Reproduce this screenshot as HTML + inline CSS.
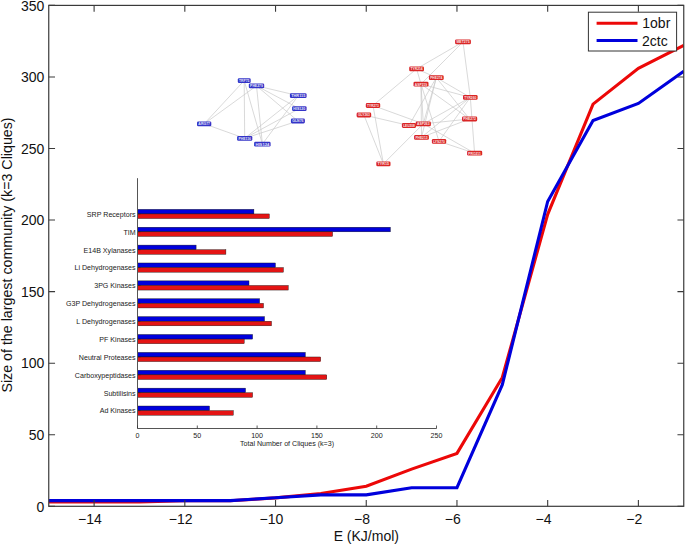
<!DOCTYPE html><html><head><meta charset="utf-8"><style>html,body{margin:0;padding:0;background:#fff;width:685px;height:544px;overflow:hidden}svg{display:block}text{font-family:"Liberation Sans",sans-serif}</style></head><body>
<svg width="685" height="544" viewBox="0 0 685 544">
<rect width="685" height="544" fill="#fff"/>
<defs><clipPath id="c"><rect x="48.75" y="5.4" width="635.0" height="500.90000000000003"/></clipPath></defs>
<line x1="244.2" y1="80.6" x2="204.2" y2="123.8" stroke="#c8c8c8" stroke-width="0.7"/><line x1="256.5" y1="85.8" x2="204.2" y2="123.8" stroke="#c8c8c8" stroke-width="0.7"/><line x1="204.2" y1="123.8" x2="244.7" y2="138.3" stroke="#c8c8c8" stroke-width="0.7"/><line x1="244.2" y1="80.6" x2="244.7" y2="138.3" stroke="#c8c8c8" stroke-width="0.7"/><line x1="244.2" y1="80.6" x2="262.4" y2="144.1" stroke="#c8c8c8" stroke-width="0.7"/><line x1="256.5" y1="85.8" x2="262.4" y2="144.1" stroke="#c8c8c8" stroke-width="0.7"/><line x1="256.5" y1="85.8" x2="298.3" y2="95.7" stroke="#c8c8c8" stroke-width="0.7"/><line x1="256.5" y1="85.8" x2="299.3" y2="108.6" stroke="#c8c8c8" stroke-width="0.7"/><line x1="256.5" y1="85.8" x2="297.9" y2="121.0" stroke="#c8c8c8" stroke-width="0.7"/><line x1="244.7" y1="138.3" x2="298.3" y2="95.7" stroke="#c8c8c8" stroke-width="0.7"/><line x1="244.7" y1="138.3" x2="299.3" y2="108.6" stroke="#c8c8c8" stroke-width="0.7"/><line x1="244.7" y1="138.3" x2="297.9" y2="121.0" stroke="#c8c8c8" stroke-width="0.7"/><line x1="262.4" y1="144.1" x2="298.3" y2="95.7" stroke="#c8c8c8" stroke-width="0.7"/><rect x="237.8" y="78.2" width="12.9" height="4.8" rx="1.3" fill="#3434c8"/><text x="244.2" y="82.0" font-size="3.9" font-weight="bold" fill="#fff" fill-opacity="0.9" text-anchor="middle" textLength="10.3" lengthAdjust="spacingAndGlyphs">TRP75</text><rect x="248.8" y="83.4" width="15.4" height="4.8" rx="1.3" fill="#3434c8"/><text x="256.5" y="87.2" font-size="3.9" font-weight="bold" fill="#fff" fill-opacity="0.9" text-anchor="middle" textLength="12.8" lengthAdjust="spacingAndGlyphs">PHE279</text><rect x="289.9" y="93.3" width="16.7" height="4.8" rx="1.3" fill="#3434c8"/><text x="298.3" y="97.1" font-size="3.9" font-weight="bold" fill="#fff" fill-opacity="0.9" text-anchor="middle" textLength="14.1" lengthAdjust="spacingAndGlyphs">THR115</text><rect x="292.1" y="106.2" width="14.5" height="4.8" rx="1.3" fill="#3434c8"/><text x="299.3" y="110.0" font-size="3.9" font-weight="bold" fill="#fff" fill-opacity="0.9" text-anchor="middle" textLength="11.9" lengthAdjust="spacingAndGlyphs">HIS120</text><rect x="290.9" y="118.6" width="14.0" height="4.8" rx="1.3" fill="#3434c8"/><text x="297.9" y="122.4" font-size="3.9" font-weight="bold" fill="#fff" fill-opacity="0.9" text-anchor="middle" textLength="11.4" lengthAdjust="spacingAndGlyphs">GLN76</text><rect x="197.0" y="121.4" width="14.3" height="4.8" rx="1.3" fill="#3434c8"/><text x="204.2" y="125.2" font-size="3.9" font-weight="bold" fill="#fff" fill-opacity="0.9" text-anchor="middle" textLength="11.7" lengthAdjust="spacingAndGlyphs">ARG77</text><rect x="237.1" y="135.9" width="15.2" height="4.8" rx="1.3" fill="#3434c8"/><text x="244.7" y="139.7" font-size="3.9" font-weight="bold" fill="#fff" fill-opacity="0.9" text-anchor="middle" textLength="12.6" lengthAdjust="spacingAndGlyphs">PHE116</text><rect x="254.1" y="141.7" width="16.5" height="4.8" rx="1.3" fill="#3434c8"/><text x="262.4" y="145.5" font-size="3.9" font-weight="bold" fill="#fff" fill-opacity="0.9" text-anchor="middle" textLength="13.9" lengthAdjust="spacingAndGlyphs">HIS124</text>
<line x1="463.0" y1="41.9" x2="416.6" y2="68.8" stroke="#c8c8c8" stroke-width="0.7"/><line x1="463.0" y1="41.9" x2="470.3" y2="97.4" stroke="#c8c8c8" stroke-width="0.7"/><line x1="463.0" y1="41.9" x2="421.0" y2="84.1" stroke="#c8c8c8" stroke-width="0.7"/><line x1="416.6" y1="68.8" x2="373.0" y2="105.5" stroke="#c8c8c8" stroke-width="0.7"/><line x1="416.6" y1="68.8" x2="421.0" y2="84.1" stroke="#c8c8c8" stroke-width="0.7"/><line x1="416.6" y1="68.8" x2="436.3" y2="77.6" stroke="#c8c8c8" stroke-width="0.7"/><line x1="436.3" y1="77.6" x2="470.3" y2="97.4" stroke="#c8c8c8" stroke-width="0.7"/><line x1="436.3" y1="77.6" x2="469.6" y2="119.0" stroke="#c8c8c8" stroke-width="0.7"/><line x1="436.3" y1="77.6" x2="423.3" y2="123.8" stroke="#c8c8c8" stroke-width="0.7"/><line x1="436.3" y1="77.6" x2="409.0" y2="125.5" stroke="#c8c8c8" stroke-width="0.7"/><line x1="436.3" y1="77.6" x2="421.5" y2="137.3" stroke="#c8c8c8" stroke-width="0.7"/><line x1="421.0" y1="84.1" x2="470.3" y2="97.4" stroke="#c8c8c8" stroke-width="0.7"/><line x1="421.0" y1="84.1" x2="423.3" y2="123.8" stroke="#c8c8c8" stroke-width="0.7"/><line x1="421.0" y1="84.1" x2="421.5" y2="137.3" stroke="#c8c8c8" stroke-width="0.7"/><line x1="421.0" y1="84.1" x2="439.0" y2="141.3" stroke="#c8c8c8" stroke-width="0.7"/><line x1="421.0" y1="84.1" x2="469.6" y2="119.0" stroke="#c8c8c8" stroke-width="0.7"/><line x1="470.3" y1="97.4" x2="474.6" y2="153.2" stroke="#c8c8c8" stroke-width="0.7"/><line x1="470.3" y1="97.4" x2="423.3" y2="123.8" stroke="#c8c8c8" stroke-width="0.7"/><line x1="470.3" y1="97.4" x2="439.0" y2="141.3" stroke="#c8c8c8" stroke-width="0.7"/><line x1="470.3" y1="97.4" x2="421.5" y2="137.3" stroke="#c8c8c8" stroke-width="0.7"/><line x1="373.0" y1="105.5" x2="383.4" y2="163.8" stroke="#c8c8c8" stroke-width="0.7"/><line x1="373.0" y1="105.5" x2="423.3" y2="123.8" stroke="#c8c8c8" stroke-width="0.7"/><line x1="363.9" y1="115.0" x2="383.4" y2="163.8" stroke="#c8c8c8" stroke-width="0.7"/><line x1="363.9" y1="115.0" x2="409.0" y2="125.5" stroke="#c8c8c8" stroke-width="0.7"/><line x1="383.4" y1="163.8" x2="423.3" y2="123.8" stroke="#c8c8c8" stroke-width="0.7"/><line x1="469.6" y1="119.0" x2="421.5" y2="137.3" stroke="#c8c8c8" stroke-width="0.7"/><line x1="469.6" y1="119.0" x2="423.3" y2="123.8" stroke="#c8c8c8" stroke-width="0.7"/><line x1="439.0" y1="141.3" x2="474.6" y2="153.2" stroke="#c8c8c8" stroke-width="0.7"/><line x1="423.3" y1="123.8" x2="474.6" y2="153.2" stroke="#c8c8c8" stroke-width="0.7"/><rect x="455.1" y="39.5" width="15.8" height="4.8" rx="1.3" fill="#da2626"/><text x="463.0" y="43.3" font-size="3.9" font-weight="bold" fill="#fff" fill-opacity="0.9" text-anchor="middle" textLength="13.2" lengthAdjust="spacingAndGlyphs">MET275</text><rect x="409.2" y="66.4" width="14.8" height="4.8" rx="1.3" fill="#da2626"/><text x="416.6" y="70.2" font-size="3.9" font-weight="bold" fill="#fff" fill-opacity="0.9" text-anchor="middle" textLength="12.2" lengthAdjust="spacingAndGlyphs">TYR214</text><rect x="428.9" y="75.2" width="14.8" height="4.8" rx="1.3" fill="#da2626"/><text x="436.3" y="79.0" font-size="3.9" font-weight="bold" fill="#fff" fill-opacity="0.9" text-anchor="middle" textLength="12.2" lengthAdjust="spacingAndGlyphs">PHE274</text><rect x="413.5" y="81.7" width="15.0" height="4.8" rx="1.3" fill="#da2626"/><text x="421.0" y="85.5" font-size="3.9" font-weight="bold" fill="#fff" fill-opacity="0.9" text-anchor="middle" textLength="12.4" lengthAdjust="spacingAndGlyphs">ASP219</text><rect x="463.0" y="95.0" width="14.6" height="4.8" rx="1.3" fill="#da2626"/><text x="470.3" y="98.8" font-size="3.9" font-weight="bold" fill="#fff" fill-opacity="0.9" text-anchor="middle" textLength="12.0" lengthAdjust="spacingAndGlyphs">TYR260</text><rect x="365.8" y="103.1" width="14.4" height="4.8" rx="1.3" fill="#da2626"/><text x="373.0" y="106.9" font-size="3.9" font-weight="bold" fill="#fff" fill-opacity="0.9" text-anchor="middle" textLength="11.8" lengthAdjust="spacingAndGlyphs">TYR273</text><rect x="356.6" y="112.6" width="14.6" height="4.8" rx="1.3" fill="#da2626"/><text x="363.9" y="116.4" font-size="3.9" font-weight="bold" fill="#fff" fill-opacity="0.9" text-anchor="middle" textLength="12.0" lengthAdjust="spacingAndGlyphs">GLY263</text><rect x="462.0" y="116.6" width="15.2" height="4.8" rx="1.3" fill="#da2626"/><text x="469.6" y="120.4" font-size="3.9" font-weight="bold" fill="#fff" fill-opacity="0.9" text-anchor="middle" textLength="12.6" lengthAdjust="spacingAndGlyphs">PHE272</text><rect x="415.7" y="121.4" width="15.2" height="4.8" rx="1.3" fill="#da2626"/><text x="423.3" y="125.2" font-size="3.9" font-weight="bold" fill="#fff" fill-opacity="0.9" text-anchor="middle" textLength="12.6" lengthAdjust="spacingAndGlyphs">ASP263</text><rect x="401.9" y="123.1" width="14.2" height="4.8" rx="1.3" fill="#da2626"/><text x="409.0" y="126.9" font-size="3.9" font-weight="bold" fill="#fff" fill-opacity="0.9" text-anchor="middle" textLength="11.6" lengthAdjust="spacingAndGlyphs">LEU208</text><rect x="414.1" y="134.9" width="14.8" height="4.8" rx="1.3" fill="#da2626"/><text x="421.5" y="138.7" font-size="3.9" font-weight="bold" fill="#fff" fill-opacity="0.9" text-anchor="middle" textLength="12.2" lengthAdjust="spacingAndGlyphs">PHE213</text><rect x="431.9" y="138.9" width="14.3" height="4.8" rx="1.3" fill="#da2626"/><text x="439.0" y="142.7" font-size="3.9" font-weight="bold" fill="#fff" fill-opacity="0.9" text-anchor="middle" textLength="11.7" lengthAdjust="spacingAndGlyphs">LYS270</text><rect x="467.1" y="150.8" width="15.1" height="4.8" rx="1.3" fill="#da2626"/><text x="474.6" y="154.6" font-size="3.9" font-weight="bold" fill="#fff" fill-opacity="0.9" text-anchor="middle" textLength="12.5" lengthAdjust="spacingAndGlyphs">PRO211</text><rect x="376.3" y="161.4" width="14.2" height="4.8" rx="1.3" fill="#da2626"/><text x="383.4" y="165.2" font-size="3.9" font-weight="bold" fill="#fff" fill-opacity="0.9" text-anchor="middle" textLength="11.6" lengthAdjust="spacingAndGlyphs">TYR15</text>
<rect x="137.5" y="406.02" width="72.0" height="4.6" fill="#0000dc" stroke="#111" stroke-width="0.4"/>
<rect x="137.5" y="410.62" width="95.8" height="4.6" fill="#e41414" stroke="#111" stroke-width="0.4"/>
<text x="135.6" y="413.42" font-size="7.1" fill="#222" text-anchor="end">Ad Kinases</text>
<line x1="137.5" y1="410.62" x2="140.5" y2="410.62" stroke="#222" stroke-width="0.6"/>
<rect x="137.5" y="388.14" width="108.0" height="4.6" fill="#0000dc" stroke="#111" stroke-width="0.4"/>
<rect x="137.5" y="392.74" width="115.1" height="4.6" fill="#e41414" stroke="#111" stroke-width="0.4"/>
<text x="135.6" y="395.54" font-size="7.1" fill="#222" text-anchor="end">Subtilisins</text>
<line x1="137.5" y1="392.74" x2="140.5" y2="392.74" stroke="#222" stroke-width="0.6"/>
<rect x="137.5" y="370.26" width="167.8" height="4.6" fill="#0000dc" stroke="#111" stroke-width="0.4"/>
<rect x="137.5" y="374.86" width="189.3" height="4.6" fill="#e41414" stroke="#111" stroke-width="0.4"/>
<text x="135.6" y="377.66" font-size="7.1" fill="#222" text-anchor="end">Carboxypeptidases</text>
<line x1="137.5" y1="374.86" x2="140.5" y2="374.86" stroke="#222" stroke-width="0.6"/>
<rect x="137.5" y="352.38" width="167.8" height="4.6" fill="#0000dc" stroke="#111" stroke-width="0.4"/>
<rect x="137.5" y="356.98" width="183.2" height="4.6" fill="#e41414" stroke="#111" stroke-width="0.4"/>
<text x="135.6" y="359.78" font-size="7.1" fill="#222" text-anchor="end">Neutral Proteases</text>
<line x1="137.5" y1="356.98" x2="140.5" y2="356.98" stroke="#222" stroke-width="0.6"/>
<rect x="137.5" y="334.50" width="115.1" height="4.6" fill="#0000dc" stroke="#111" stroke-width="0.4"/>
<rect x="137.5" y="339.10" width="106.7" height="4.6" fill="#e41414" stroke="#111" stroke-width="0.4"/>
<text x="135.6" y="341.90" font-size="7.1" fill="#222" text-anchor="end">PF Kinases</text>
<line x1="137.5" y1="339.10" x2="140.5" y2="339.10" stroke="#222" stroke-width="0.6"/>
<rect x="137.5" y="316.62" width="127.0" height="4.6" fill="#0000dc" stroke="#111" stroke-width="0.4"/>
<rect x="137.5" y="321.22" width="134.0" height="4.6" fill="#e41414" stroke="#111" stroke-width="0.4"/>
<text x="135.6" y="324.02" font-size="7.1" fill="#222" text-anchor="end">L Dehydrogenases</text>
<line x1="137.5" y1="321.22" x2="140.5" y2="321.22" stroke="#222" stroke-width="0.6"/>
<rect x="137.5" y="298.74" width="122.1" height="4.6" fill="#0000dc" stroke="#111" stroke-width="0.4"/>
<rect x="137.5" y="303.34" width="126.0" height="4.6" fill="#e41414" stroke="#111" stroke-width="0.4"/>
<text x="135.6" y="306.14" font-size="7.1" fill="#222" text-anchor="end">G3P Dehydrogenases</text>
<line x1="137.5" y1="303.34" x2="140.5" y2="303.34" stroke="#222" stroke-width="0.6"/>
<rect x="137.5" y="280.86" width="111.5" height="4.6" fill="#0000dc" stroke="#111" stroke-width="0.4"/>
<rect x="137.5" y="285.46" width="150.7" height="4.6" fill="#e41414" stroke="#111" stroke-width="0.4"/>
<text x="135.6" y="288.26" font-size="7.1" fill="#222" text-anchor="end">3PG Kinases</text>
<line x1="137.5" y1="285.46" x2="140.5" y2="285.46" stroke="#222" stroke-width="0.6"/>
<rect x="137.5" y="262.98" width="137.9" height="4.6" fill="#0000dc" stroke="#111" stroke-width="0.4"/>
<rect x="137.5" y="267.58" width="145.9" height="4.6" fill="#e41414" stroke="#111" stroke-width="0.4"/>
<text x="135.6" y="270.38" font-size="7.1" fill="#222" text-anchor="end">Li Dehydrogenases</text>
<line x1="137.5" y1="267.58" x2="140.5" y2="267.58" stroke="#222" stroke-width="0.6"/>
<rect x="137.5" y="245.10" width="58.6" height="4.6" fill="#0000dc" stroke="#111" stroke-width="0.4"/>
<rect x="137.5" y="249.70" width="88.4" height="4.6" fill="#e41414" stroke="#111" stroke-width="0.4"/>
<text x="135.6" y="252.50" font-size="7.1" fill="#222" text-anchor="end">E14B Xylanases</text>
<line x1="137.5" y1="249.70" x2="140.5" y2="249.70" stroke="#222" stroke-width="0.6"/>
<rect x="137.5" y="227.22" width="252.9" height="4.6" fill="#0000dc" stroke="#111" stroke-width="0.4"/>
<rect x="137.5" y="231.82" width="195.1" height="4.6" fill="#e41414" stroke="#111" stroke-width="0.4"/>
<text x="135.6" y="234.62" font-size="7.1" fill="#222" text-anchor="end">TIM</text>
<line x1="137.5" y1="231.82" x2="140.5" y2="231.82" stroke="#222" stroke-width="0.6"/>
<rect x="137.5" y="209.34" width="116.4" height="4.6" fill="#0000dc" stroke="#111" stroke-width="0.4"/>
<rect x="137.5" y="213.94" width="131.8" height="4.6" fill="#e41414" stroke="#111" stroke-width="0.4"/>
<text x="135.6" y="216.74" font-size="7.1" fill="#222" text-anchor="end">SRP Receptors</text>
<line x1="137.5" y1="213.94" x2="140.5" y2="213.94" stroke="#222" stroke-width="0.6"/>
<path d="M137.5 178.18V428.5H436.5" fill="none" stroke="#555" stroke-width="1"/>
<line x1="137.50" y1="428.5" x2="137.50" y2="425.5" stroke="#333" stroke-width="0.8"/>
<text x="137.50" y="437.6" font-size="7.1" fill="#222" text-anchor="middle">0</text>
<line x1="197.30" y1="428.5" x2="197.30" y2="425.5" stroke="#333" stroke-width="0.8"/>
<text x="197.30" y="437.6" font-size="7.1" fill="#222" text-anchor="middle">50</text>
<line x1="257.10" y1="428.5" x2="257.10" y2="425.5" stroke="#333" stroke-width="0.8"/>
<text x="257.10" y="437.6" font-size="7.1" fill="#222" text-anchor="middle">100</text>
<line x1="316.90" y1="428.5" x2="316.90" y2="425.5" stroke="#333" stroke-width="0.8"/>
<text x="316.90" y="437.6" font-size="7.1" fill="#222" text-anchor="middle">150</text>
<line x1="376.70" y1="428.5" x2="376.70" y2="425.5" stroke="#333" stroke-width="0.8"/>
<text x="376.70" y="437.6" font-size="7.1" fill="#222" text-anchor="middle">200</text>
<line x1="436.50" y1="428.5" x2="436.50" y2="425.5" stroke="#333" stroke-width="0.8"/>
<text x="436.50" y="437.6" font-size="7.1" fill="#222" text-anchor="middle">250</text>
<text x="287.0" y="445.9" font-size="7.1" fill="#222" text-anchor="middle">Total Number of Cliques (k=3)</text>
<g clip-path="url(#c)"><polyline points="48.75,502.01 94.11,502.01 139.46,502.01 184.82,500.72 230.18,500.72 275.54,497.86 320.89,493.42 366.25,486.26 411.61,469.09 456.96,453.35 502.32,377.50 547.68,214.35 593.04,104.15 638.39,68.37 683.75,45.47" fill="none" stroke="#ec0808" stroke-width="3.1" stroke-linejoin="miter"/>
<polyline points="48.75,500.58 94.11,500.58 139.46,500.58 184.82,500.58 230.18,500.58 275.54,497.71 320.89,494.85 366.25,494.85 411.61,487.70 456.96,487.70 502.32,384.65 547.68,201.47 593.04,120.61 638.39,103.43 683.75,71.23" fill="none" stroke="#0000dc" stroke-width="3.1" stroke-linejoin="miter"/></g>
<rect x="48.75" y="5.4" width="635.00" height="500.90" fill="none" stroke="#3a3a3a" stroke-width="1.2"/>
<path d="M94.11 506.3v-6.3M94.11 5.4v6.3M184.82 506.3v-6.3M184.82 5.4v6.3M275.54 506.3v-6.3M275.54 5.4v6.3M366.25 506.3v-6.3M366.25 5.4v6.3M456.96 506.3v-6.3M456.96 5.4v6.3M547.68 506.3v-6.3M547.68 5.4v6.3M638.39 506.3v-6.3M638.39 5.4v6.3M48.75 506.30h6.3M683.75 506.30h-6.3M48.75 434.74h6.3M683.75 434.74h-6.3M48.75 363.19h6.3M683.75 363.19h-6.3M48.75 291.63h6.3M683.75 291.63h-6.3M48.75 220.07h6.3M683.75 220.07h-6.3M48.75 148.51h6.3M683.75 148.51h-6.3M48.75 76.96h6.3M683.75 76.96h-6.3M48.75 5.40h6.3M683.75 5.40h-6.3" stroke="#3a3a3a" stroke-width="1.1" fill="none"/>
<text x="89.91" y="523.6" font-size="14" fill="#111" text-anchor="middle">−14</text>
<text x="180.62" y="523.6" font-size="14" fill="#111" text-anchor="middle">−12</text>
<text x="271.34" y="523.6" font-size="14" fill="#111" text-anchor="middle">−10</text>
<text x="362.05" y="523.6" font-size="14" fill="#111" text-anchor="middle">−8</text>
<text x="452.76" y="523.6" font-size="14" fill="#111" text-anchor="middle">−6</text>
<text x="543.48" y="523.6" font-size="14" fill="#111" text-anchor="middle">−4</text>
<text x="634.19" y="523.6" font-size="14" fill="#111" text-anchor="middle">−2</text>
<text x="44.4" y="511.60" font-size="14" fill="#111" text-anchor="end">0</text>
<text x="44.4" y="440.04" font-size="14" fill="#111" text-anchor="end">50</text>
<text x="44.4" y="368.49" font-size="14" fill="#111" text-anchor="end">100</text>
<text x="44.4" y="296.93" font-size="14" fill="#111" text-anchor="end">150</text>
<text x="44.4" y="225.37" font-size="14" fill="#111" text-anchor="end">200</text>
<text x="44.4" y="153.81" font-size="14" fill="#111" text-anchor="end">250</text>
<text x="44.4" y="82.26" font-size="14" fill="#111" text-anchor="end">300</text>
<text x="44.4" y="10.70" font-size="14" fill="#111" text-anchor="end">350</text>
<text x="366.3" y="540.8" font-size="14" fill="#111" text-anchor="middle">E (KJ/mol)</text>
<text transform="translate(11.8 255) rotate(-90)" font-size="14.25" fill="#111" text-anchor="middle">Size of the largest community (k=3 Cliques)</text>
<rect x="588.4" y="12.2" width="88.2" height="38.8" fill="#fff" stroke="#333" stroke-width="1"/>
<line x1="596.6" y1="23.3" x2="637.5" y2="23.3" stroke="#ec0808" stroke-width="3"/>
<line x1="596.6" y1="40.4" x2="637.5" y2="40.4" stroke="#0000dc" stroke-width="3"/>
<text x="642.3" y="28.4" font-size="14" fill="#111">1obr</text>
<text x="642.0" y="45.8" font-size="14" fill="#111">2ctc</text>
</svg></body></html>
